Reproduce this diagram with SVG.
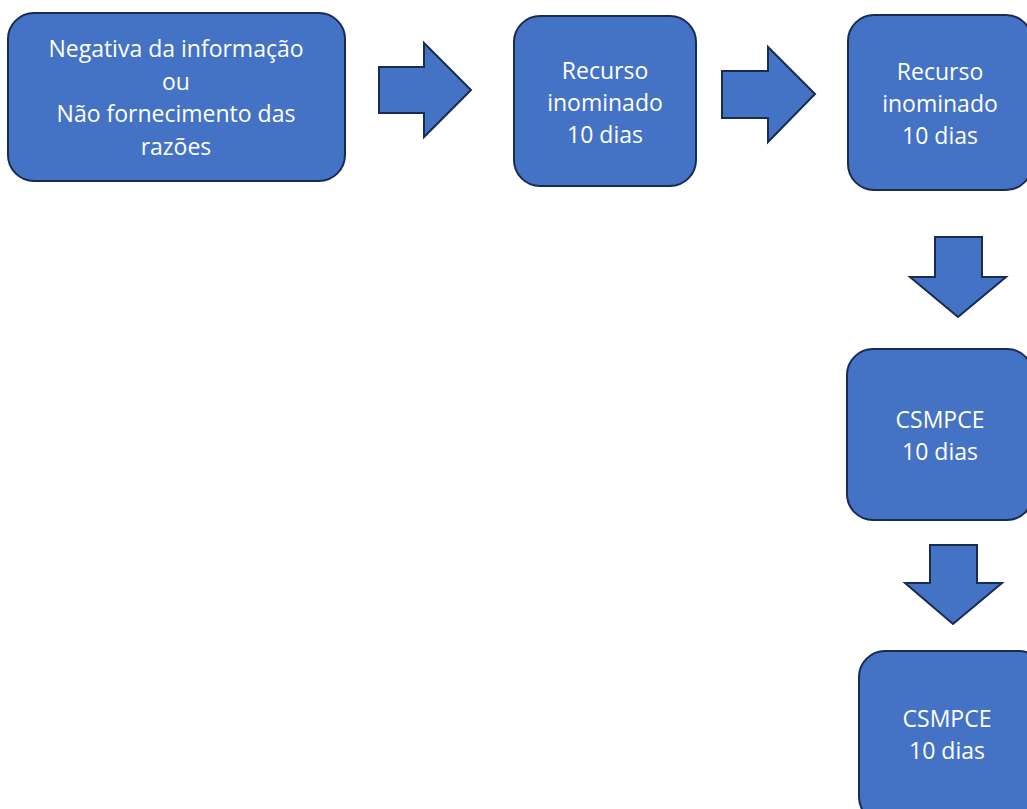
<svg xmlns="http://www.w3.org/2000/svg" width="1027" height="809" viewBox="0 0 1027 809">
<style>
.box{fill:#4472C4;stroke:#172C51;stroke-width:2}
.arr{fill:#4472C4;stroke:#172C51;stroke-width:2;stroke-linejoin:miter}
.t{font-family:"Open Sans","Liberation Sans",sans-serif;font-size:23px;fill:#FFFFFF;text-anchor:middle}
</style>
<rect width="1027" height="809" fill="#FFFFFF"/>
<g id="n1">
<rect class="box" x="8" y="13" width="337" height="168" rx="26"/>
<text class="t" x="176" y="57">Negativa da informação</text>
<text class="t" x="176" y="90">ou</text>
<text class="t" x="176" y="122">Não fornecimento das</text>
<text class="t" x="176" y="155">razões</text>
</g>
<g id="n2">
<rect class="box" x="514" y="16" width="182" height="170" rx="26"/>
<text class="t" x="605" y="79">Recurso</text>
<text class="t" x="605" y="111">inominado</text>
<text class="t" x="605" y="143">10 dias</text>
</g>
<g id="n3">
<rect class="box" x="848" y="15" width="184" height="175" rx="26"/>
<text class="t" x="940" y="80">Recurso</text>
<text class="t" x="940" y="112">inominado</text>
<text class="t" x="940" y="144">10 dias</text>
</g>
<g id="n4">
<rect class="box" x="847" y="349" width="186" height="171" rx="26"/>
<text class="t" x="940" y="428">CSMPCE</text>
<text class="t" x="940" y="460">10 dias</text>
</g>
<g id="n5">
<rect class="box" x="859" y="651" width="186" height="172" rx="26"/>
<text class="t" x="947" y="727">CSMPCE</text>
<text class="t" x="947" y="759">10 dias</text>
</g>
<g id="connectors">
<polygon class="arr" points="379,67 424,67 424,43 471,90 424,137 424,113 379,113"/>
<polygon class="arr" points="722,71 768,71 768,47 815,94 768,142 768,118 722,118"/>
<polygon class="arr" points="935,237 982,237 982,277 1006,277 958,317 910,277 935,277"/>
<polygon class="arr" points="930,545 977,545 977,583 1002,583 953,624 905,583 930,583"/>
</g>
</svg>
